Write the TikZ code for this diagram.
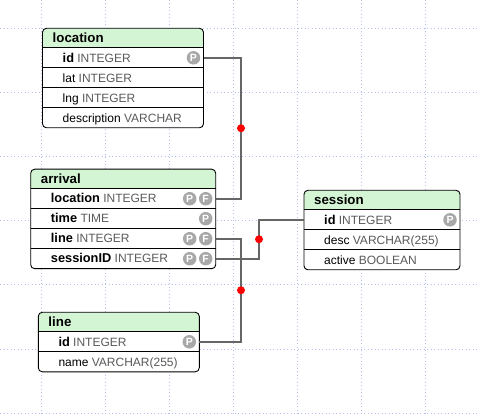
\documentclass[tikz,border=0pt]{standalone}
\usepackage{fontspec}
\setmainfont{Liberation Sans}

\definecolor{hdrgreen}{HTML}{D4F5D4}
\definecolor{gridblue}{HTML}{B4BEF0}
\definecolor{linkgray}{HTML}{666666}
\definecolor{keygray}{HTML}{A8A8A8}
\definecolor{typegray}{HTML}{5A5A5A}

\newcommand{\ty}[1]{\textcolor{typegray}{#1}}
\newcommand{\pk}[1]{{\fontsize{12.8}{14}\selectfont\bfseries #1}}

\tikzset{
  grid line/.style={gridblue, line width=1pt, dash pattern=on 1pt off 2.5pt},
  tbox/.style={draw=black, line width=0.9pt, rounded corners=4pt},
  title/.style={anchor=base west, inner sep=0pt, font=\fontsize{13.3}{15}\selectfont\bfseries},
  field/.style={anchor=base west, inner sep=0pt, font=\fontsize{12}{14}\selectfont},
  key/.style={circle, fill=keygray, text=white, inner sep=0pt, minimum size=13.5pt,
    font=\fontsize{10.5}{10.5}\selectfont\bfseries},
  link/.style={draw=linkgray, line width=2pt},
  dot/.style={circle, fill=red, inner sep=0pt, minimum size=8pt},
}

\begin{document}
\begin{tikzpicture}[x=1pt,y=-1pt]
\useasboundingbox (0,0) rectangle (480,417);

% grid
\foreach \gx in {41,105,...,425} \draw[grid line] (\gx,0) -- (\gx,417);
\foreach \gy in {29,93,...,413} \draw[grid line] (0,\gy) -- (480,\gy);

% location
\begin{scope}[shift={(42.5,28.3)}]
\fill[white, rounded corners=4pt] (0,0) rectangle (161,99.5);
\fill[hdrgreen] (0,19.5) [rounded corners=4pt]-- (0,0) -- (161,0) [sharp corners]-- (161,19.5) -- cycle;
\foreach \ry in {19.5,39.5,59.5,79.5} \draw[line width=0.9pt] (0,\ry) -- (161,\ry);
\draw[tbox] (0,0) rectangle (161,99.5);
\node[title] (location) at (10,14.5) {location};
\node[field] (location-id) at (20,33.8) {\pk{id} \ty{INTEGER}};
\node[field] (location-lat) at (20,53.8) {lat \ty{INTEGER}};
\node[field] (location-lng) at (20,73.8) {lng \ty{INTEGER}};
\node[field] (location-description) at (20,93.8) {description \ty{VARCHAR}};
\node[key] (location-id-p) at (151,29.5) {P};
\coordinate (location-id-e) at (161,29.5);
\end{scope}

% arrival
\begin{scope}[shift={(30.7,169.2)}]
\fill[white, rounded corners=4pt] (0,0) rectangle (185,99.5);
\fill[hdrgreen] (0,19.5) [rounded corners=4pt]-- (0,0) -- (185,0) [sharp corners]-- (185,19.5) -- cycle;
\foreach \ry in {19.5,39.5,59.5,79.5} \draw[line width=0.9pt] (0,\ry) -- (185,\ry);
\draw[tbox] (0,0) rectangle (185,99.5);
\node[title] (arrival) at (10,14.5) {arrival};
\node[field] (arrival-location) at (20,33.8) {\pk{location} \ty{INTEGER}};
\node[field] (arrival-time) at (20,53.8) {\pk{time} \ty{TIME}};
\node[field] (arrival-line) at (20,73.8) {\pk{line} \ty{INTEGER}};
\node[field] (arrival-sessionID) at (20,93.8) {\pk{sessionID} \ty{INTEGER}};
\node[key] (arrival-location-p) at (159,29.5) {P};
\node[key] (arrival-location-f) at (175,29.5) {F};
\node[key] (arrival-time-p) at (175,49.5) {P};
\node[key] (arrival-line-p) at (159,69.5) {P};
\node[key] (arrival-line-f) at (175,69.5) {F};
\node[key] (arrival-sessionID-p) at (159,89.5) {P};
\node[key] (arrival-sessionID-f) at (175,89.5) {F};
\coordinate (arrival-location-e) at (185,29.5);
\coordinate (arrival-line-e) at (185,69.5);
\coordinate (arrival-sessionID-e) at (185,89.5);
\end{scope}

% session
\begin{scope}[shift={(304,190.3)}]
\fill[white, rounded corners=4pt] (0,0) rectangle (156,79.5);
\fill[hdrgreen] (0,19.5) [rounded corners=4pt]-- (0,0) -- (156,0) [sharp corners]-- (156,19.5) -- cycle;
\foreach \ry in {19.5,39.5,59.5} \draw[line width=0.9pt] (0,\ry) -- (156,\ry);
\draw[tbox] (0,0) rectangle (156,79.5);
\node[title] (session) at (10,14.5) {session};
\node[field] (session-id) at (20,33.8) {\pk{id} \ty{INTEGER}};
\node[field] (session-desc) at (20,53.8) {desc \ty{VARCHAR(255)}};
\node[field] (session-active) at (20,73.8) {active \ty{BOOLEAN}};
\node[key] (session-id-p) at (146,29.5) {P};
\coordinate (session-id-w) at (0,29.5);
\end{scope}

% line
\begin{scope}[shift={(38.3,312.3)}]
\fill[white, rounded corners=4pt] (0,0) rectangle (161,59.5);
\fill[hdrgreen] (0,19.5) [rounded corners=4pt]-- (0,0) -- (161,0) [sharp corners]-- (161,19.5) -- cycle;
\foreach \ry in {19.5,39.5} \draw[line width=0.9pt] (0,\ry) -- (161,\ry);
\draw[tbox] (0,0) rectangle (161,59.5);
\node[title] (line) at (10,14.5) {line};
\node[field] (line-id) at (20,33.8) {\pk{id} \ty{INTEGER}};
\node[field] (line-name) at (20,53.8) {name \ty{VARCHAR(255)}};
\node[key] (line-id-p) at (151,29.5) {P};
\coordinate (line-id-e) at (161,29.5);
\end{scope}

% links
\draw[link] (location-id-e) -- ++(37.5,0) |- node[pos=0.25, dot] (dot-location) {} (arrival-location-e);
\draw[link] (arrival-line-e) -- ++(25.3,0) |- node[pos=0.25, dot] (dot-line) {} (line-id-e);
\draw[link] (arrival-sessionID-e) -- ++(43.3,0) |- node[pos=0.25, dot] (dot-session) {} (session-id-w);

\end{tikzpicture}
\end{document}
